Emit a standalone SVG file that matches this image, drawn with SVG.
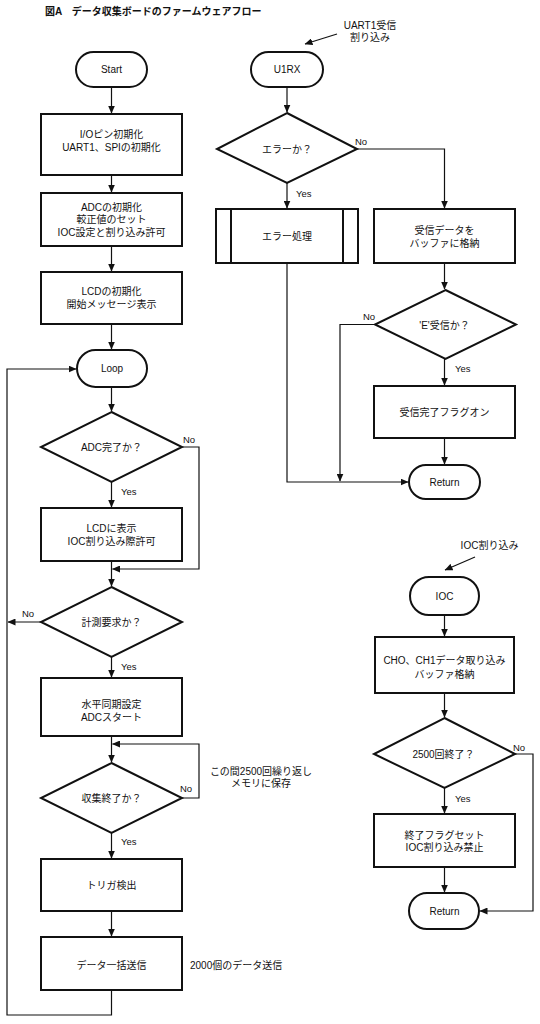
<svg xmlns="http://www.w3.org/2000/svg" width="540" height="1024" viewBox="0 0 540 1024">
<style>
text{font-family:"Liberation Sans","Noto Sans CJK JP",sans-serif;font-size:10px;fill:#111;text-anchor:middle}
.shape{fill:#fff;stroke:#111;stroke-width:2}
.conn{fill:none;stroke:#111;stroke-width:1.2}
.lbl{font-size:9.5px;text-anchor:start}
.title{text-anchor:start;font-weight:bold}
.st{text-anchor:start}
</style>
<defs>
<marker id="ah" markerWidth="8" markerHeight="7" refX="7.5" refY="3.5" orient="auto" markerUnits="userSpaceOnUse">
<path d="M0,0 L8,3.5 L0,7 Z" fill="#111"/>
</marker>
</defs>
<rect width="540" height="1024" fill="#fff"/>
<text class="title" x="45" y="14.5">図A　データ収集ボードのファームウェアフロー</text>

<g id="connectors">
<path class="conn" d="M111.5,87 V113" marker-end="url(#ah)"/>
<path class="conn" d="M111.5,175 V192" marker-end="url(#ah)"/>
<path class="conn" d="M111.5,246 V271" marker-end="url(#ah)"/>
<path class="conn" d="M111.5,324 V349" marker-end="url(#ah)"/>
<path class="conn" d="M111.5,387 V411" marker-end="url(#ah)"/>
<path class="conn" d="M111.5,482 V507" marker-end="url(#ah)"/>
<path class="conn" d="M182,447 H199 V569 H112.5" marker-end="url(#ah)"/>
<path class="conn" d="M111.5,561 V586" marker-end="url(#ah)"/>
<path class="conn" d="M41,622 H8" marker-end="url(#ah)"/>
<path class="conn" d="M111.5,657 V677" marker-end="url(#ah)"/>
<path class="conn" d="M111.5,736 V762" marker-end="url(#ah)"/>
<path class="conn" d="M182,798 H199 V744 H112.5" marker-end="url(#ah)"/>
<path class="conn" d="M111.5,833 V858" marker-end="url(#ah)"/>
<path class="conn" d="M111.5,911 V936" marker-end="url(#ah)"/>
<path class="conn" d="M111.5,990 V1015 H7 V369 H76" marker-end="url(#ah)"/>

<path class="conn" d="M337,34 L305,44" marker-end="url(#ah)"/>
<path class="conn" d="M287,87 V112" marker-end="url(#ah)"/>
<path class="conn" d="M357,149 H444.5 V208" marker-end="url(#ah)"/>
<path class="conn" d="M287,183 V208" marker-end="url(#ah)"/>
<path class="conn" d="M287,263 V482 H408" marker-end="url(#ah)"/>
<path class="conn" d="M444.5,263 V289" marker-end="url(#ah)"/>
<path class="conn" d="M375,324.5 H340 V481" marker-end="url(#ah)"/>
<path class="conn" d="M444.5,359 V385" marker-end="url(#ah)"/>
<path class="conn" d="M444.5,438 V464" marker-end="url(#ah)"/>

<path class="conn" d="M475,557 L445,570" marker-end="url(#ah)"/>
<path class="conn" d="M444.5,615 V636" marker-end="url(#ah)"/>
<path class="conn" d="M444.5,693 V717" marker-end="url(#ah)"/>
<path class="conn" d="M444.5,788 V813" marker-end="url(#ah)"/>
<path class="conn" d="M444.5,867 V892" marker-end="url(#ah)"/>
<path class="conn" d="M515,754 H533 V911 H480" marker-end="url(#ah)"/>
</g>

<g id="labels">
<text class="lbl" x="183" y="442.5">No</text>
<text class="lbl" x="121" y="494.5">Yes</text>
<text class="lbl" x="22" y="617">No</text>
<text class="lbl" x="121" y="670">Yes</text>
<text class="lbl" x="180" y="792">No</text>
<text class="lbl" x="121" y="845">Yes</text>
<text class="lbl" x="355" y="144.5">No</text>
<text class="lbl" x="296" y="196.5">Yes</text>
<text class="lbl" x="363" y="319.5">No</text>
<text class="lbl" x="455" y="371.5">Yes</text>
<text class="lbl" x="513" y="750.5">No</text>
<text class="lbl" x="455" y="801.5">Yes</text>
</g>

<g id="annotations">
<text x="370" y="28.5">UART1受信</text>
<text x="370" y="41">割り込み</text>
<text x="489.5" y="548.5">IOC割り込み</text>
<text x="261" y="774.5">この間2500回繰り返し</text>
<text x="261" y="786.5">メモリに保存</text>
<text class="st" x="190" y="968.5">2000個のデータ送信</text>
</g>

<g id="start"><rect class="shape" x="76" y="52" width="71" height="35" rx="17.5"/><text x="111.5" y="73">Start</text></g>
<g id="init-io"><rect class="shape" x="41" y="114" width="141" height="61"/><text x="111.5" y="137.5">I/Oピン初期化</text><text x="111.5" y="151">UART1、SPIの初期化</text></g>
<g id="init-adc"><rect class="shape" x="41" y="193" width="141" height="53"/><text x="111.5" y="210.5">ADCの初期化</text><text x="111.5" y="223">較正値のセット</text><text x="111.5" y="235.5">IOC設定と割り込み許可</text></g>
<g id="init-lcd"><rect class="shape" x="41" y="272" width="141" height="52"/><text x="111.5" y="295">LCDの初期化</text><text x="111.5" y="308">開始メッセージ表示</text></g>
<g id="loop"><rect class="shape" x="77" y="350" width="70" height="37" rx="18.5"/><text x="112" y="372">Loop</text></g>
<g id="adc-done"><polygon class="shape" points="111.5,412 182,447 111.5,482 41,447"/><text x="111.5" y="450.5">ADC完了か？</text></g>
<g id="lcd-show"><rect class="shape" x="41" y="508" width="141" height="53"/><text x="111.5" y="531.5">LCDに表示</text><text x="111.5" y="544.5">IOC割り込み際許可</text></g>
<g id="measure-req"><polygon class="shape" points="111.5,587 182,622 111.5,657 41,622"/><text x="111.5" y="625.5">計測要求か？</text></g>
<g id="hsync"><rect class="shape" x="41" y="678" width="141" height="58"/><text x="111.5" y="707.5">水平同期設定</text><text x="111.5" y="720.5">ADCスタート</text></g>
<g id="collect-done"><polygon class="shape" points="111.5,763 182,798 111.5,833 41,798"/><text x="111.5" y="801.5">収集終了か？</text></g>
<g id="trigger"><rect class="shape" x="41" y="859" width="141" height="52"/><text x="111.5" y="889">トリガ検出</text></g>
<g id="send"><rect class="shape" x="41" y="937" width="141" height="53"/><text x="111.5" y="968.5">データ一括送信</text></g>

<g id="u1rx"><rect class="shape" x="251" y="52" width="72" height="35" rx="17.5"/><text x="287" y="73">U1RX</text></g>
<g id="error-q"><polygon class="shape" points="287,113 357,149 287,183 217,149"/><text x="287" y="152.5">エラーか？</text></g>
<g id="error-proc"><rect class="shape" x="216" y="209" width="142" height="54"/><line class="shape" x1="231" y1="209" x2="231" y2="263"/><line class="shape" x1="343" y1="209" x2="343" y2="263"/><text x="287" y="240">エラー処理</text></g>
<g id="store-rx"><rect class="shape" x="374" y="209" width="141" height="54"/><text x="444.5" y="233.5">受信データを</text><text x="444.5" y="246.5">バッファに格納</text></g>
<g id="e-q"><polygon class="shape" points="445.5,290 516,324.5 445.5,359 375,324.5"/><text x="444.5" y="328.5">'E'受信か？</text></g>
<g id="rx-flag"><rect class="shape" x="374" y="386" width="141" height="52"/><text x="444.5" y="415.5">受信完了フラグオン</text></g>
<g id="return1"><rect class="shape" x="409" y="465" width="71" height="34" rx="17"/><text x="444.5" y="485.5">Return</text></g>

<g id="ioc"><rect class="shape" x="410" y="577" width="69" height="38" rx="19"/><text x="444.5" y="599.5">IOC</text></g>
<g id="ch-read"><rect class="shape" x="375" y="637" width="139" height="56"/><text x="444.5" y="663.5">CHO、CH1データ取り込み</text><text x="444.5" y="677.5">バッファ格納</text></g>
<g id="count-q"><polygon class="shape" points="444.5,718 515,754 444.5,788 374,754"/><text x="443.5" y="757.5">2500回終了？</text></g>
<g id="end-flag"><rect class="shape" x="374" y="814" width="141" height="53"/><text x="444.5" y="838.5">終了フラグセット</text><text x="444.5" y="850.5">IOC割り込み禁止</text></g>
<g id="return2"><rect class="shape" x="409" y="893" width="70" height="36" rx="18"/><text x="444.5" y="914.5">Return</text></g>
</svg>
